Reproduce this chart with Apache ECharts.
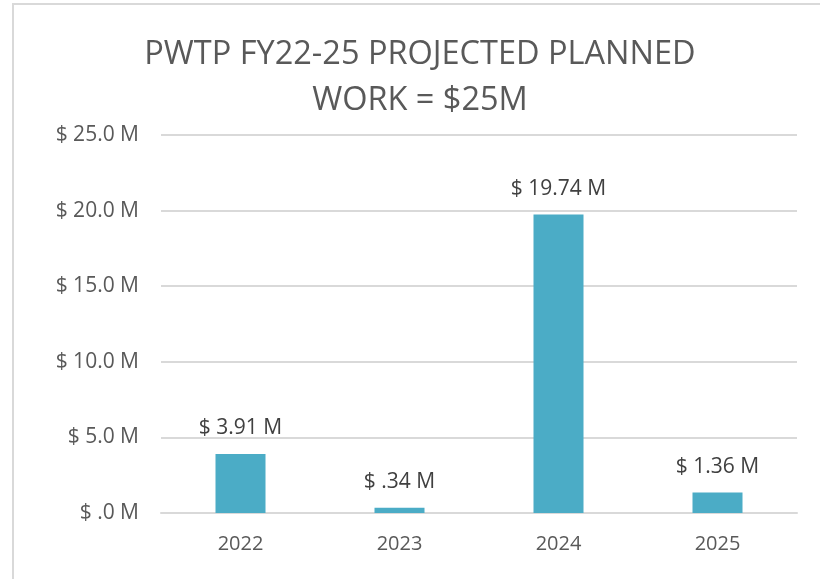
<!DOCTYPE html>
<html><head><meta charset="utf-8">
<script src="https://cdn.jsdelivr.net/npm/echarts@6/dist/echarts.min.js"></script>
<style>html,body{margin:0;padding:0;background:#fff}#c{width:820px;height:579px}</style>
</head><body><div id="c"></div>
<script>
const categories = ['2022', '2023', '2024', '2025'];
const values = [3.91, 0.34, 19.74, 1.36];
const valueLabels = ['$ 3.91 M', '$ .34 M', '$ 19.74 M', '$ 1.36 M'];
const yTicks = ['$ .0 M', '$ 5.0 M', '$ 10.0 M', '$ 15.0 M', '$ 20.0 M', '$ 25.0 M'];
const titleText = 'PWTP FY22-25 PROJECTED PLANNED\nWORK = $25M';

const chart = echarts.init(document.getElementById('c'));
chart.setOption({
  animation: false,
  backgroundColor: '#fff',
  graphic: [{
    type: 'rect', shape: {x: 13, y: 4, width: 830, height: 600},
    style: {fill: 'none', stroke: '#d9d9d9', lineWidth: 2}, silent: true
  }],
  title: {
    text: titleText, left: 415, textAlign: 'center', top: 27,
    textStyle: {fontFamily: 'Open Sans', fontWeight: 'normal', fontSize: 32.5, color: '#595959', lineHeight: 46}
  },
  grid: {left: 161, right: 23, top: 135, bottom: 66, containLabel: false},
  xAxis: {
    type: 'category', data: categories,
    axisLine: {lineStyle: {color: '#d9d9d9', width: 2}}, axisTick: {show: false},
    axisLabel: {color: '#595959', fontSize: 20, fontFamily: 'Open Sans', margin: 21}
  },
  yAxis: {
    type: 'value', min: 0, max: 25, interval: 5,
    axisLine: {show: false}, axisTick: {show: false},
    splitLine: {lineStyle: {color: '#d9d9d9', width: 2}},
    axisLabel: {color: '#595959', fontSize: 21, fontFamily: 'Open Sans', margin: 22,
      formatter: v => yTicks[Math.round(v / 5)]}
  },
  series: [{
    type: 'bar', data: values, barWidth: 50,
    itemStyle: {color: '#4bacc6'},
    label: {show: true, position: 'top', distance: 15, color: '#404040', fontSize: 21, fontFamily: 'Open Sans',
      formatter: p => valueLabels[p.dataIndex]}
  }]
});
</script></body></html>
